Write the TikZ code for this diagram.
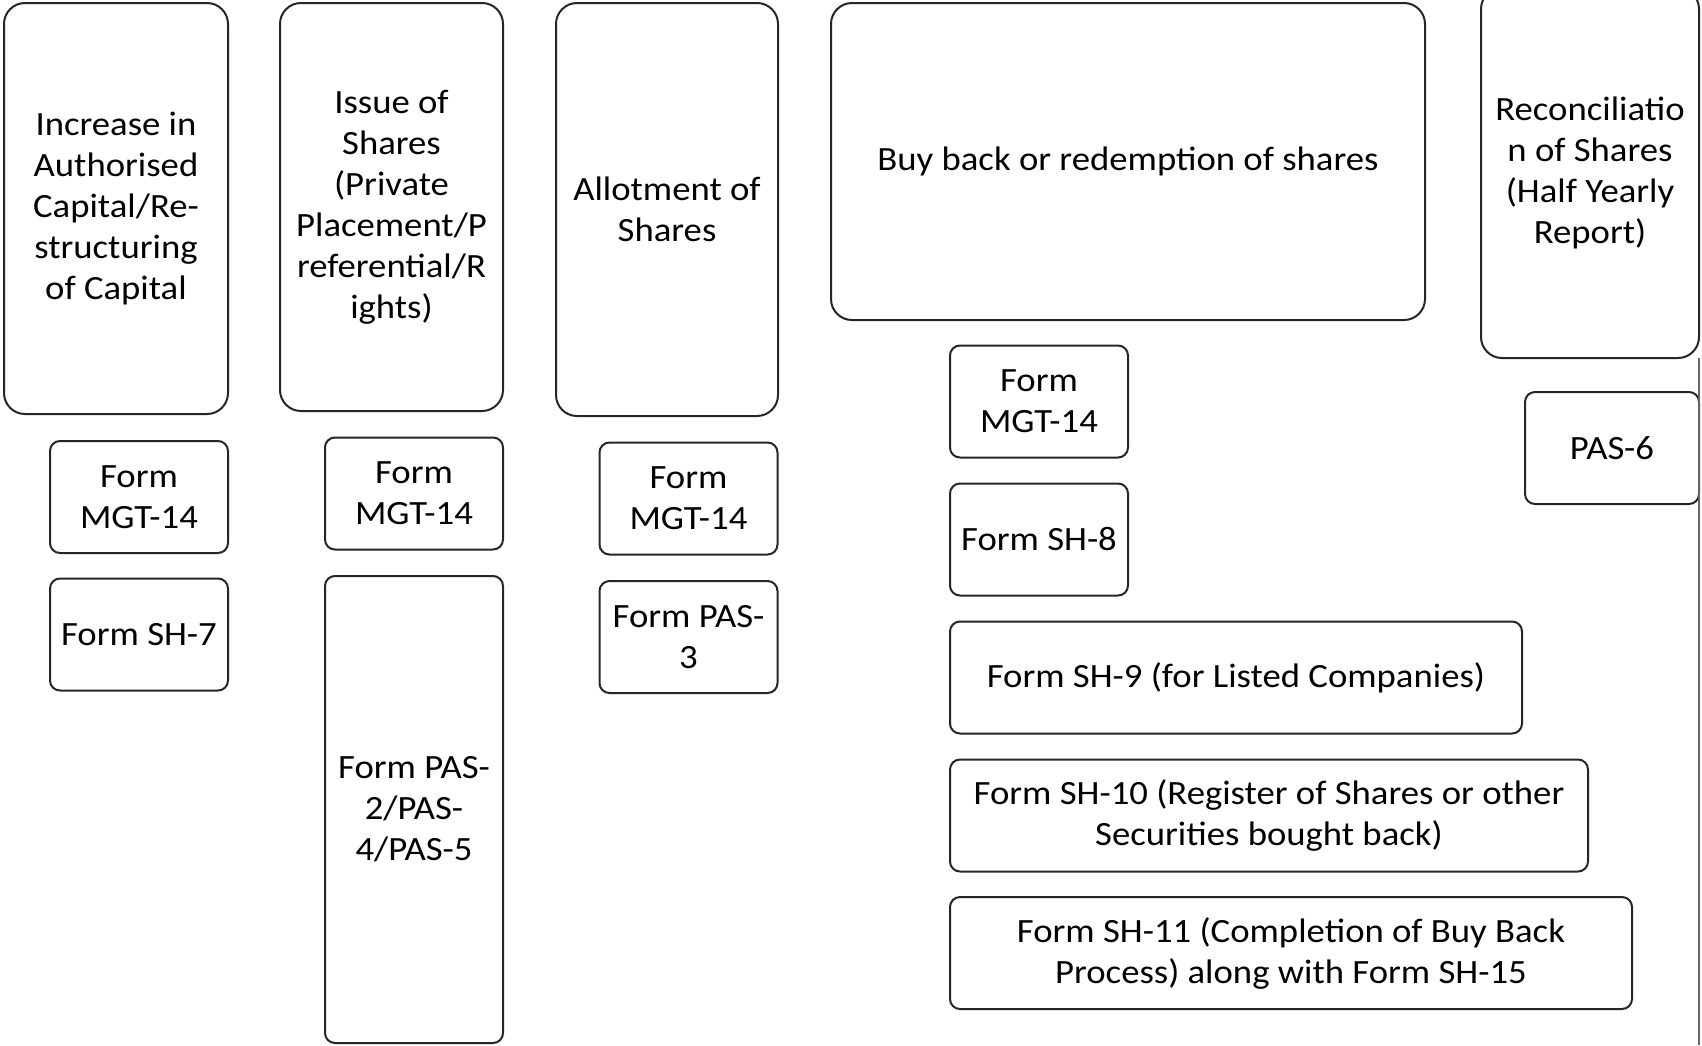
\documentclass[tikz,border=0pt]{standalone}
\usepackage{fontspec}
\setmainfont{Carlito}[FakeStretch=1.08]
\usepackage{tikz}
\usetikzlibrary{positioning}
\tikzset{
    taskbox/.style = {rectangle, draw=black!85, line width=1pt, rounded corners=10.5pt,
                        align=center, inner sep=2pt},
    formbox/.style = {rectangle, draw=black!85, line width=1pt, rounded corners=5pt,
                        minimum width=89pt, minimum height=56pt, align=center, inner sep=2pt}
}

\begin{document}
\begin{tikzpicture}[x=0.5pt,y=-0.5pt]
			\tikzstyle{every node}=[font=\fontsize{17pt}{20.5pt}\selectfont]
			\useasboundingbox[fill=white] (0,0) rectangle (1702,1045);
			% main activities
			\node (incr) [taskbox, minimum width=112pt, minimum height=205.5pt] at (116,208.5) {Increase in\\Authorised\\Capital/Re-\\structuring\\of Capital};
			\node (issue) [taskbox, minimum width=111.5pt, minimum height=204pt] at (391.5,207) {Issue of\\Shares\\(Private\\Placement/P\\referential/R\\ights)};
			\node (allot) [taskbox, minimum width=111pt, minimum height=206.5pt] at (667,209.5) {Allotment of\\Shares};
			\node (buyback) [taskbox, minimum width=297pt, minimum height=158.5pt] at (1128,161.5) {Buy back or redemption of shares};
			\node (recon) [taskbox, minimum width=109pt, minimum height=185pt] at (1590,173) {Reconciliatio\\n of Shares\\(Half Yearly\\Report)};
			% forms to be filed
			\node (incrmgt) [formbox] at (139,497) {Form\\MGT-14};
			\node (incrsh) [formbox] at (139,634.5) {Form SH-7};
			\node (issuemgt) [formbox] at (414,493.5) {Form\\MGT-14};
			\node (issuepas) [formbox, minimum height=233.5pt] at (414,809.5) {Form PAS-\\2/PAS-\\4/PAS-5};
			\node (allotmgt) [formbox] at (688.5,498.5) {Form\\MGT-14};
			\node (allotpas) [formbox] at (688.5,637) {Form PAS-\\3};
			\node (buymgt) [formbox] at (1039,401.5) {Form\\MGT-14};
			\node (buysheight) [formbox] at (1039,539.5) {Form SH-8};
			\node (buyshnine) [formbox, minimum width=286pt] at (1236,677.5) {Form SH-9 (for Listed Companies)};
			\node (buyshten) [formbox, minimum width=319pt] at (1269,815.5) {Form SH-10 (Register of Shares or other\\Securities bought back)};
			\node (buysheleven) [formbox, minimum width=341pt] at (1291,953) {Form SH-11 (Completion of Buy Back\\Process) along with Form SH-15};
			\node (reconpas) [formbox, minimum width=87pt] at (1612,448) {PAS-6};
			% right edge
			\draw [black!60, line width=0.6pt] (1699,358) -- (1699,1045);
		\end{tikzpicture}
\end{document}
